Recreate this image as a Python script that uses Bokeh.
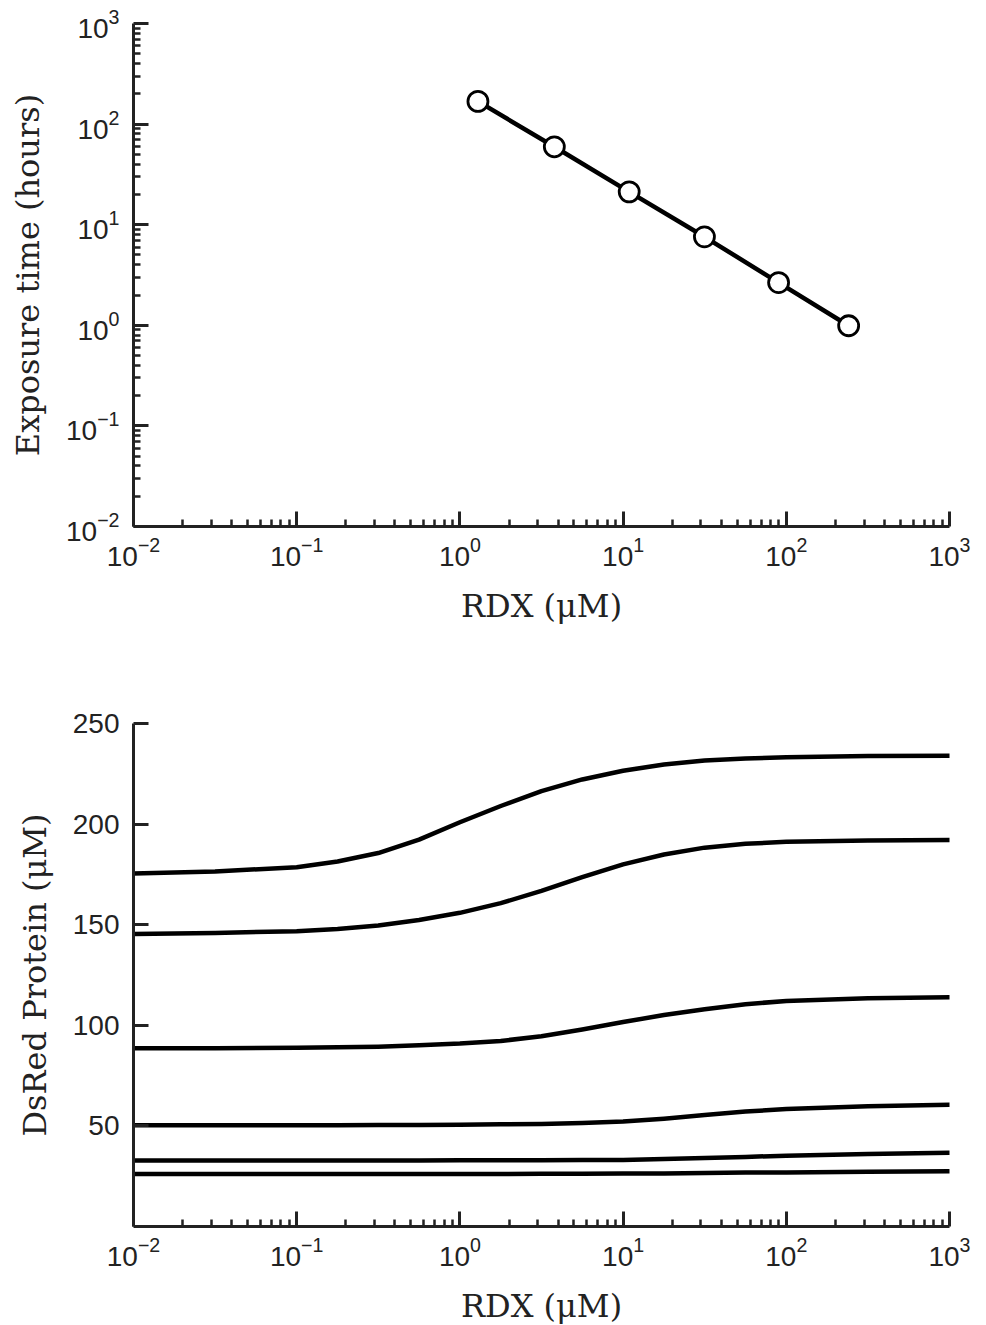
from bokeh.plotting import figure
from bokeh.layouts import column
from bokeh.models import FixedTicker, Range1d
from bokeh.embed import file_html
from bokeh.resources import INLINE

# ---- data: top panel (exposure time vs RDX) ----
exposure_rdx = [1.29, 3.79, 10.9, 31.5, 89.7, 241.0]
exposure_hours = [168.0, 59.5, 21.2, 7.58, 2.66, 0.99]

# ---- data: bottom panel (DsRed protein vs RDX) ----
rdx_grid = [0.01, 0.0316, 0.1, 0.178, 0.316, 0.562, 1.0, 1.78, 3.16, 5.62,
            10.0, 17.8, 31.6, 56.2, 100.0, 316.0, 1000.0]
dsred_1 = [175.5, 176.4, 178.6, 181.4, 185.6, 192.3, 200.9, 209.0, 216.4, 222.2,
           226.5, 229.6, 231.6, 232.6, 233.2, 233.8, 234.0]
dsred_2 = [145.4, 145.9, 146.8, 147.9, 149.6, 152.3, 155.9, 160.7, 166.8, 173.6,
           180.0, 184.9, 188.3, 190.2, 191.2, 191.9, 192.1]
dsred_3 = [88.6, 88.6, 88.9, 89.1, 89.4, 90.1, 90.9, 92.2, 94.6, 97.9,
           101.6, 105.1, 108.0, 110.5, 112.1, 113.5, 113.9]
dsred_4 = [50.3, 50.3, 50.3, 50.3, 50.4, 50.5, 50.6, 50.8, 51.0, 51.5,
           52.2, 53.6, 55.4, 57.1, 58.4, 59.8, 60.5]
dsred_5 = [32.8, 32.8, 32.8, 32.8, 32.8, 32.8, 32.9, 32.9, 32.9, 33.0,
           33.1, 33.5, 34.0, 34.6, 35.2, 36.0, 36.6]
dsred_6 = [26.1, 26.1, 26.1, 26.1, 26.1, 26.1, 26.1, 26.1, 26.2, 26.2,
           26.3, 26.4, 26.6, 26.8, 26.9, 27.2, 27.4]

x_label = "RDX (μM)"
top_y_label = "Exposure time (hours)"
bottom_y_label = "DsRed Protein (μM)"
decades = [0.01, 0.1, 1, 10, 100, 1000]
linear_ticks = [50, 100, 150, 200, 250]

AXIS_COLOR = "#222222"


def log_minor(lo_exp, hi_exp):
    out = []
    for e in range(lo_exp, hi_exp):
        for m in range(2, 10):
            out.append(m * 10.0 ** e)
    return out


def style_axis(ax):
    ax.axis_line_width = 3
    ax.axis_line_color = AXIS_COLOR
    ax.major_tick_in = 15
    ax.major_tick_out = 0
    ax.minor_tick_in = 7
    ax.minor_tick_out = 0
    ax.major_tick_line_width = 3
    ax.major_tick_line_color = AXIS_COLOR
    ax.minor_tick_line_width = 2.5
    ax.minor_tick_line_color = AXIS_COLOR
    ax.major_label_text_font = "Liberation Sans"
    ax.major_label_text_font_size = "28px"
    ax.major_label_text_color = AXIS_COLOR
    ax.axis_label_text_font = "DejaVu Serif"
    ax.axis_label_text_font_size = "32px"
    ax.axis_label_text_font_style = "normal"
    ax.axis_label_text_color = AXIS_COLOR


def base_fig(y_type, y_range, **kw):
    p = figure(
        x_axis_type="log",
        y_axis_type=y_type,
        x_range=Range1d(0.01, 1000),
        y_range=Range1d(*y_range),
        frame_width=816,
        frame_height=503,
        min_border_left=133,
        min_border_right=30,
        output_backend="svg",
        toolbar_location=None,
        **kw,
    )
    p.grid.visible = False
    p.outline_line_color = None
    p.background_fill_color = "white"
    p.border_fill_color = "white"
    return p


# ---- top figure ----
p1 = base_fig("log", (0.01, 1000), min_border_top=23, min_border_bottom=115)
p1.xaxis.ticker = FixedTicker(ticks=decades, minor_ticks=log_minor(-2, 3))
p1.yaxis.ticker = FixedTicker(ticks=decades, minor_ticks=log_minor(-2, 3))
for ax in (p1.xaxis[0], p1.yaxis[0]):
    style_axis(ax)
p1.xaxis.axis_label = x_label
p1.yaxis.axis_label = top_y_label
p1.xaxis.major_label_standoff = 10
p1.xaxis.axis_label_standoff = 18
p1.yaxis.major_label_standoff = 14
p1.yaxis.axis_label_standoff = 16

p1.line(exposure_rdx, exposure_hours, line_color="black", line_width=4.5)
p1.scatter(exposure_rdx, exposure_hours, marker="circle", size=20,
           fill_color="white", line_color="black", line_width=2.8)

# ---- bottom figure ----
p2 = base_fig("linear", (0, 250), min_border_top=82, min_border_bottom=85)
p2.xaxis.ticker = FixedTicker(ticks=decades, minor_ticks=log_minor(-2, 3))
p2.yaxis.ticker = FixedTicker(ticks=linear_ticks, minor_ticks=[])
for ax in (p2.xaxis[0], p2.yaxis[0]):
    style_axis(ax)
p2.xaxis.axis_label = x_label
p2.yaxis.axis_label = bottom_y_label
p2.xaxis.major_label_standoff = 10
p2.xaxis.axis_label_standoff = 18
p2.yaxis.major_label_standoff = 14
p2.yaxis.axis_label_standoff = 16

for curve in (dsred_1, dsred_2, dsred_3, dsred_4, dsred_5, dsred_6):
    p2.line(rdx_grid, curve, line_color="black", line_width=4.5,
            line_cap="round", line_join="round")

layout = column(p1, p2, spacing=0)
open("out.html", "w").write(file_html(layout, INLINE))
